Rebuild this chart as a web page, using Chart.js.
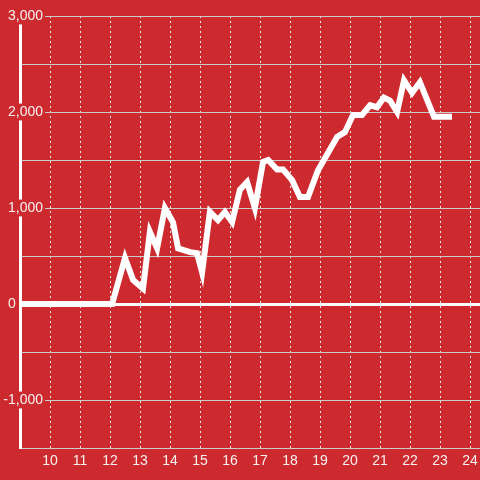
<!DOCTYPE html>
<html>
<head>
<meta charset="utf-8">
<script src="https://cdn.jsdelivr.net/npm/chart.js@4/dist/chart.umd.min.js"></script>
<style>
  html, body { margin: 0; padding: 0; background: #cd2a2f; }
  canvas { display: block; background: #cd2a2f; }
</style>
</head>
<body>
<canvas id="chart" width="480" height="480"></canvas>
<script>
// Hours of day and values
const hours = [9, 12.07, 12.5, 12.77, 13.1, 13.33, 13.57, 13.83, 14.1, 14.27, 14.67, 14.9,
    15.07, 15.33, 15.6, 15.83, 16.07, 16.33, 16.57, 16.83, 17.1, 17.27, 17.57, 17.77,
    18.07, 18.33, 18.6, 18.93, 19.57, 19.83, 20.1, 20.4, 20.67, 20.9, 21.13, 21.33,
    21.57, 21.8, 22.07, 22.33, 22.8, 23.4];
const values = [0, 0, 480, 250, 160, 750, 580, 1000, 850, 580, 540, 530,
    330, 960, 875, 958, 854, 1190, 1270, 1000, 1480, 1500, 1400, 1400,
    1290, 1115, 1115, 1390, 1740, 1790, 1970, 1970, 2070, 2050, 2150, 2120,
    2000, 2330, 2200, 2310, 1950, 1950];
const hourTicks = [10, 11, 12, 13, 14, 15, 16, 17, 18, 19, 20, 21, 22, 23, 24];
const valueLabels = [-1000, 0, 1000, 2000, 3000];

const bg = '#cd2a2f';
const labelColor = '#f3f0f0';
const gridColor = '#cbcbcb';

const ctx = document.getElementById('chart').getContext('2d');
const chart = new Chart(ctx, {
    type: 'line',
    data: {
        datasets: [{
            data: hours.map((h, i) => ({ x: h, y: values[i] })),
            borderColor: '#ffffff',
            borderWidth: 6,
            borderJoinStyle: 'miter',
            borderCapStyle: 'butt',
            pointRadius: 0,
            tension: 0,
            fill: false
        }]
    },
    options: {
        responsive: false,
        animation: false,
        layout: { padding: { top: 16, left: 0, right: 0, bottom: 0 } },
        plugins: {
            legend: { display: false },
            tooltip: { enabled: false }
        },
        scales: {
            x: {
                type: 'linear',
                min: 9,
                max: 24.333,
                afterBuildTicks: scale => {
                    scale.ticks = hourTicks.map(v => ({ value: v }));
                },
                afterFit: scale => {
                    scale.height = 32;
                    scale.paddingLeft = 0;
                    scale.paddingRight = 0;
                },
                grid: {
                    color: '#e6e6e6',
                    lineWidth: 1,
                    drawTicks: false
                },
                border: {
                    color: gridColor,
                    width: 1,
                    dash: [2, 3]
                },
                ticks: {
                    color: labelColor,
                    font: { family: 'Liberation Sans, Arial, sans-serif', size: 14 },
                    padding: 5,
                    maxRotation: 0,
                    autoSkip: false,
                    callback: v => String(v)
                }
            },
            y: {
                min: -1500,
                max: 3000,
                afterFit: scale => {
                    scale.width = 20;
                    // labels sit across the axis line, so don't clip them to the axis box
                    scale._computeLabelArea = () => undefined;
                },
                grid: {
                    drawTicks: false,
                    color: c => c.tick && c.tick.value === 0 ? '#ffffff' : gridColor,
                    lineWidth: c => c.tick && c.tick.value === 0 ? 3 : 1
                },
                border: {
                    color: '#ffffff',
                    width: 3
                },
                ticks: {
                    stepSize: 500,
                    color: labelColor,
                    font: { family: 'Liberation Sans, Arial, sans-serif', size: 14 },
                    padding: -23,
                    z: 2,
                    showLabelBackdrop: true,
                    backdropColor: c => (c.tick && valueLabels.includes(c.tick.value) && c.tick.value !== 0)
                        ? bg : 'rgba(0,0,0,0)',
                    backdropPadding: { top: 0, bottom: 0, left: 2, right: 2 },
                    callback: v => {
                        if (!valueLabels.includes(v)) return '';
                        if (v === 0) return '0       ';
                        return v.toLocaleString('en-US');
                    }
                }
            }
        }
    }
});
</script>
</body>
</html>
